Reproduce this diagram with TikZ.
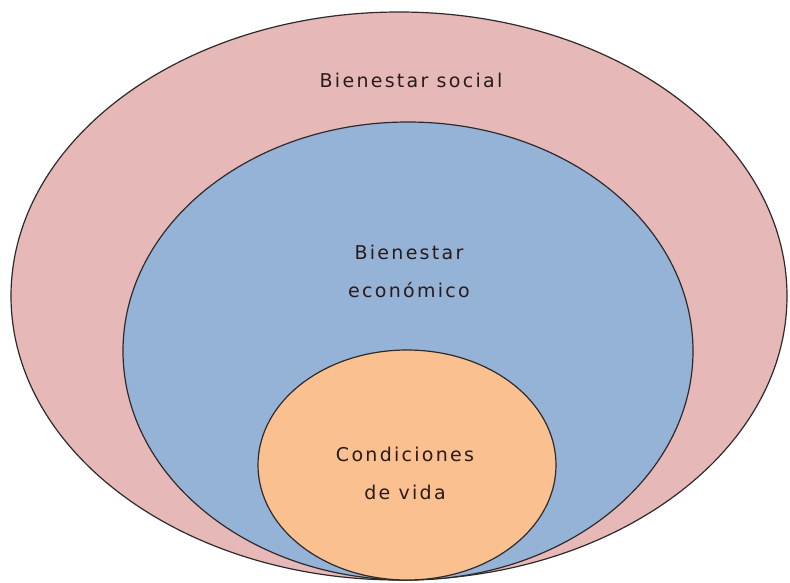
\documentclass[tikz,border=0pt]{standalone}
\usepackage{fontspec}
\setmainfont{DejaVu Sans}[LetterSpace=12]
\usetikzlibrary{shapes.geometric}
\definecolor{pinkfill}{HTML}{E6B9B8}
\definecolor{bluefill}{HTML}{95B3D7}
\definecolor{orangefill}{HTML}{FAC090}
\definecolor{edge}{HTML}{2E2A2A}
\definecolor{txt}{HTML}{2A1A1A}
\begin{document}
\begin{tikzpicture}[x=1pt,y=-1pt,
  ring/.style={ellipse, draw=edge, line width=1.2pt, inner sep=0pt, outer sep=0pt},
  lbl/.style={text=txt, font=\fontsize{19}{38}\selectfont, align=center, inner sep=0pt}]
\useasboundingbox (0,0) rectangle (790,582);
\node[ring, fill=pinkfill, minimum width=776pt, minimum height=568pt] (social) at (399,296) {};
\node[ring, fill=bluefill, minimum width=570pt, minimum height=458pt] (eco) at (408,351) {};
\node[ring, fill=orangefill, minimum width=298pt, minimum height=230pt] (vida) at (407,465) {};
\node[lbl] (tsocial) at (411,80) {Bienestar social};
\node[lbl] (teco) at (409,271) {Bienestar\\económico};
\node[lbl] (tvida) at (405,473) {Condiciones\\de vida};
\end{tikzpicture}
\end{document}
